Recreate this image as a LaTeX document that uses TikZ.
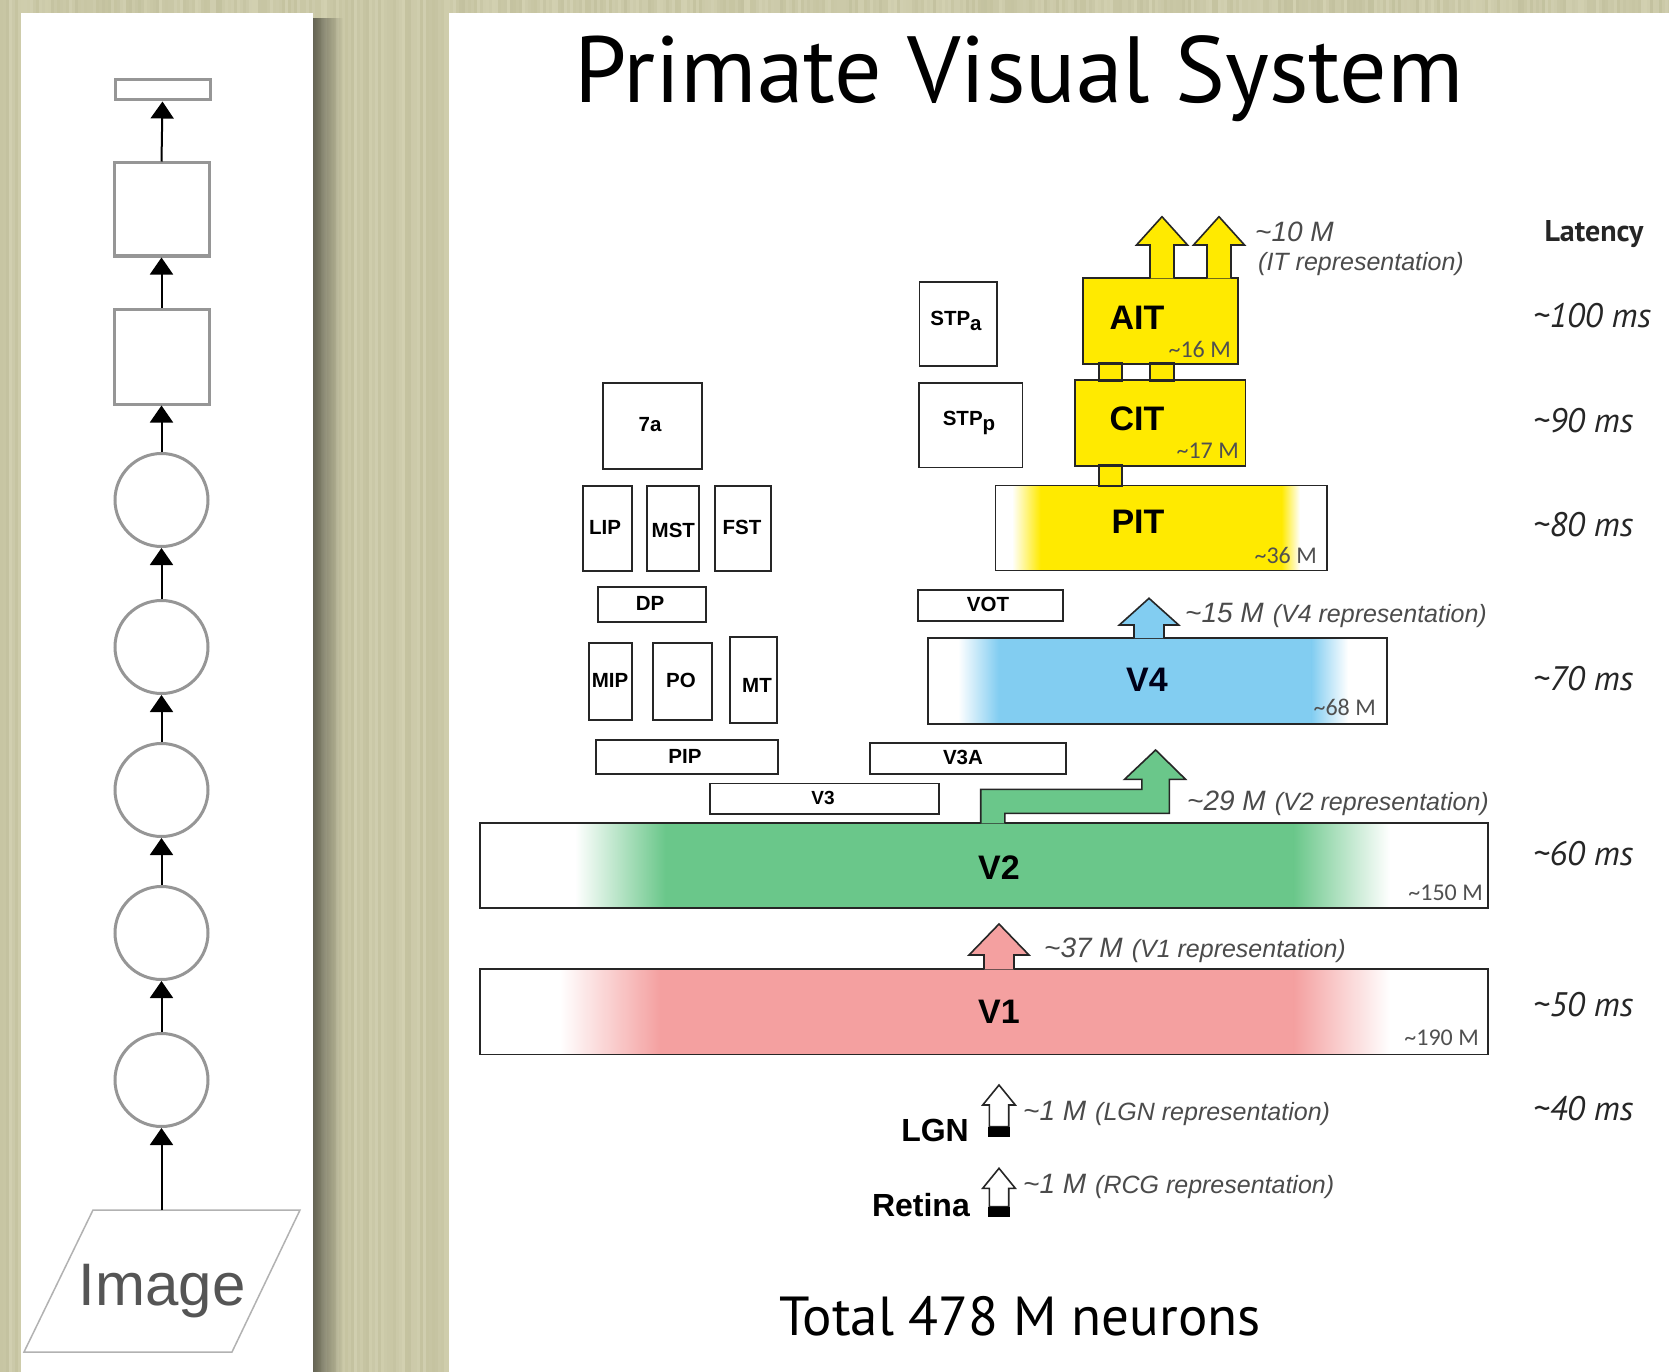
\documentclass[tikz,border=0pt]{standalone}
\usepackage{fontspec}
\setmainfont{Liberation Sans}
\newfontfamily\gillfont{PT Sans}
\newfontfamily\condfont{Carlito}
\usetikzlibrary{arrows.meta,fit,fadings}

\definecolor{bgd}{RGB}{190,188,152}
\definecolor{bgl}{RGB}{216,214,184}
\definecolor{lpgray}{RGB}{150,150,150}
\definecolor{imggray}{RGB}{85,85,85}
\definecolor{itY}{RGB}{255,234,0}
\definecolor{v4B}{RGB}{130,205,241}
\definecolor{v2G}{RGB}{106,199,138}
\definecolor{v1R}{RGB}{244,160,160}
\definecolor{cntgray}{RGB}{80,80,80}
\definecolor{repgray}{RGB}{75,75,75}

% box drawn from its two corners
\newcommand\areabox[5]{\node[area, fit={(#2,#3) (#4,#5)}] (#1) {};}
% broad up-arrow: style, centre x, shaft half width, head half width, tip y, head base y, foot y
\newcommand\fatarrow[7]{%
  \filldraw[#1] (#2-#3,#7) -- (#2-#3,#6) -- (#2-#4,#6) -- (#2,#5)
    -- (#2+#4,#6) -- (#2+#3,#6) -- (#2+#3,#7);}
% neuron count followed by the representation name
\newcommand\rep[2]{{\fontsize{28}{30}\selectfont\textasciitilde#1}\hspace{9pt}{\fontsize{25}{27}\selectfont(#2)}}

\begin{document}
\begin{tikzpicture}[x=1pt,y=-1pt,
  lpshape/.style={draw=lpgray, line width=3pt, fill=white, inner sep=0pt},
  lparrow/.style={draw=black, line width=2pt, -{Triangle[width=23pt,length=17pt]}},
  area/.style={draw=black!85, line width=1.8pt, inner sep=0pt},
  link/.style={draw=black!85, line width=1.6pt, fill=itY},
  fatarr/.style={draw=black!85, line width=1.6pt, line join=miter},
  lbl/.style={font=\bfseries\fontsize{20.5}{22}\selectfont, inner sep=0pt},
  big/.style={font=\bfseries\fontsize{34}{36}\selectfont, inner sep=0pt},
  cnt/.style={font=\condfont\fontsize{24}{26}\selectfont, text=cntgray, inner sep=0pt, anchor=base east},
  repl/.style={font=\itshape, text=repgray, inner sep=0pt, anchor=base west},
  lat/.style={font=\gillfont\itshape\fontsize{34}{36}\selectfont, text=black!85, inner sep=0pt, anchor=west},
]
\useasboundingbox (0,0) rectangle (1669,1372);

% ---------- textured backdrop: fine vertical grain ----------
\fill[bgl!50!bgd] (0,0) rectangle (1669,1372);
\pgfmathsetseed{42}
\foreach \i in {0,...,555}{
  \pgfmathtruncatemacro\s{15+70*rnd}
  \fill[bgl!\s!bgd, opacity=0.8] (\i*3,0) rectangle (\i*3+3.3,1372);
}
\fill[black, path fading=east, fill opacity=0.5] (313,13) rectangle (343,1372);

% ---------- panels ----------
\fill[white] (21,13) rectangle (313,1372);
\fill[white] (449,13) rectangle (1669,1372);

% ---------- feed-forward network ----------
\node[lpshape, fit={(115,80) (210,100)}] (out) {};
\node[lpshape, fit={(114,163) (209,256)}] (fc2) {};
\node[lpshape, fit={(114,309) (209,404)}] (fc1) {};
\node[lpshape, circle, minimum size=93pt] (c1) at (161.5,500) {};
\node[lpshape, circle, minimum size=93pt] (c2) at (161.5,647) {};
\node[lpshape, circle, minimum size=93pt] (c3) at (161.5,790) {};
\node[lpshape, circle, minimum size=93pt] (c4) at (161.5,933) {};
\node[lpshape, circle, minimum size=93pt] (c5) at (161.5,1080) {};
\draw[draw=black!30, line width=1.5pt] (93,1210) -- (300,1210) -- (232,1352) -- (24,1352) -- cycle;
\coordinate (imgtop) at (161.5,1210);
\node[font=\fontsize{60}{64}\selectfont, text=imggray, anchor=base, inner sep=0pt] (imgtxt) at (162,1305) {Image};

\draw[lparrow] (imgtop) -- (c5.south);
\draw[lparrow] (c5.north) -- (c4.south);
\draw[lparrow] (c4.north) -- (c3.south);
\draw[lparrow] (c3.north) -- (c2.south);
\draw[lparrow] (c2.north) -- (c1.south);
\draw[lparrow] (c1.north) -- (fc1.south);
\draw[lparrow] (fc1.north) -- (fc2.south);
\draw[lparrow] (fc2.north) -- (out.south);

% ---------- title ----------
\node[font=\gillfont\fontsize{94}{100}\selectfont, anchor=base, inner sep=0pt] (title) at (1019,103) {Primate Visual System};

% ---------- coloured fills ----------
% V1
\fill[v1R] (660,969.3) rectangle (1294,1054.5);
\shade[left color=white, right color=v1R] (560,969.3) rectangle (660.5,1054.5);
\shade[left color=v1R, right color=white] (1293.5,969.3) rectangle (1390,1054.5);
% V2
\fill[v2G] (665,823.3) rectangle (1294,908.3);
\shade[left color=white, right color=v2G] (575,823.3) rectangle (665.5,908.3);
\shade[left color=v2G, right color=white] (1293.5,823.3) rectangle (1390,908.3);
% V4
\fill[v4B] (998,638) rectangle (1312,724);
\shade[left color=white, right color=v4B] (958,638) rectangle (998.5,724);
\shade[left color=v4B, right color=white] (1311.5,638) rectangle (1348,724);
% PIT
\fill[itY] (1040,485.5) rectangle (1282,570.5);
\shade[left color=white, right color=itY] (1012,485.5) rectangle (1040.5,570.5);
\shade[left color=itY, right color=white] (1281.5,485.5) rectangle (1300,570.5);
% AIT, CIT
\fill[itY] (1083,278.3) rectangle (1237.8,364);
\fill[itY] (1075,380) rectangle (1245.5,465.7);

% links between the IT stages
\filldraw[link] (1099,363) rectangle (1122,381);
\filldraw[link] (1150,363) rectangle (1174,381);
\filldraw[link] (1099,464.7) rectangle (1122,486.5);

% ---------- areas ----------
\areabox{STPa}{919.4}{281.7}{996.7}{365.7}
\areabox{STPp}{919}{383}{1022.5}{467.5}
\areabox{AIT}{1083}{278.3}{1237.8}{364}
\areabox{CIT}{1075}{380}{1245.5}{465.7}
\areabox{PIT}{995.5}{485.5}{1327}{570.5}
\areabox{A7a}{602.7}{382.7}{701.7}{469}
\areabox{LIP}{583.3}{485.7}{631.7}{570.7}
\areabox{MST}{647.3}{485.7}{699.3}{570.7}
\areabox{FST}{715}{485.7}{771}{570.7}
\areabox{DP}{598.3}{587.3}{706}{621.7}
\areabox{VOT}{918.3}{590}{1062.7}{621}
\areabox{MIP}{589.3}{643.3}{632.3}{720}
\areabox{PO}{653.3}{643.3}{711.7}{720}
\areabox{MT}{730}{637.3}{777.3}{723.3}
\areabox{V4}{928}{638}{1387}{724}
\areabox{PIP}{596}{740}{778.3}{774.3}
\areabox{V3A}{870}{743.3}{1066}{774.3}
\areabox{V3}{709.8}{783.5}{939}{814.3}
\areabox{V2}{480}{823.3}{1488}{908.3}
\areabox{V1}{480}{969.3}{1488}{1054.5}

% ---------- area names ----------
\node[lbl] (tSTPa) at (956,321) {STP\raisebox{-0.5ex}{a}};
\node[lbl] (tSTPp) at (969,423) {STP\raisebox{-0.5ex}{p}};
\node[lbl] (t7a) at (650,425) {7a};
\node[lbl] (tLIP) at (605,527) {LIP};
\node[lbl] (tMST) at (673.3,530) {MST};
\node[lbl] (tFST) at (742,527) {FST};
\node[lbl] (tDP) at (650,603.5) {DP};
\node[lbl] (tVOT) at (988,604.5) {VOT};
\node[lbl] (tMIP) at (610,680) {MIP};
\node[lbl] (tPO) at (681,680) {PO};
\node[lbl] (tMT) at (757,685) {MT};
\node[lbl] (tPIP) at (685,756) {PIP};
\node[lbl] (tV3A) at (963,757) {V3A};
\node[lbl, font=\bfseries\fontsize{19}{21}\selectfont] (tV3) at (823,798) {V3};
\node[big] (tAIT) at (1137,318) {AIT};
\node[big] (tCIT) at (1137,419) {CIT};
\node[big] (tPIT) at (1138,522) {PIT};
\node[big, text=black!90!blue] (tV4) at (1147,680) {V4};
\node[big] (tV2) at (999,868) {V2};
\node[big] (tV1) at (999,1012) {V1};

% neuron counts
\node[cnt] (nAIT) at (1231,357) {\textasciitilde16 M};
\node[cnt] (nCIT) at (1239,458.5) {\textasciitilde17 M};
\node[cnt] (nPIT) at (1317,563) {\textasciitilde36 M};
\node[cnt] (nV4) at (1376,715) {\textasciitilde68 M};
\node[cnt] (nV2) at (1483,900) {\textasciitilde150 M};
\node[cnt] (nV1) at (1479,1045) {\textasciitilde190 M};

% ---------- feed-forward arrows ----------
\fatarrow{fatarr, fill=itY}{1162}{12}{25.5}{216.7}{245}{278.3}
\fatarrow{fatarr, fill=itY}{1219}{12}{25.5}{216.7}{245}{278.3}
\fatarrow{fatarr, fill=v4B}{1149}{15}{29.7}{598.3}{625}{638}
\filldraw[fatarr, fill=v2G] (980.7,823.3) -- (980.7,789.3) -- (1141.8,789.3) -- (1141.8,779.3)
  -- (1124.6,779.3) -- (1155.6,750) -- (1185.5,779.3) -- (1169.4,779.3) -- (1169.4,813.3)
  -- (1004.8,813.3) -- (1004.8,823.3);
\fatarrow{fatarr, fill=v1R}{999}{15}{30}{924}{955}{969.3}

% LGN and retina outputs
\filldraw[fatarr, fill=white] (989.3,1126.7) -- (989.3,1105) -- (982.7,1105) -- (999,1085)
  -- (1015.3,1105) -- (1008.7,1105) -- (1008.7,1126.7) -- cycle;
\fill[black] (988.3,1126.7) rectangle (1009.7,1136.7);
\filldraw[fatarr, fill=white] (989.3,1206.7) -- (989.3,1188.3) -- (982.7,1188.3) -- (999,1168.3)
  -- (1015.3,1188.3) -- (1008.7,1188.3) -- (1008.7,1206.7) -- cycle;
\fill[black] (988.3,1206.7) rectangle (1009.7,1216.7);
\node[font=\bfseries\fontsize{32}{34}\selectfont, anchor=base east, inner sep=0pt] (LGN) at (969,1141.7) {LGN};
\node[font=\bfseries\fontsize{32}{34}\selectfont, anchor=base east, inner sep=0pt] (Retina) at (970,1216.7) {Retina};

% ---------- representation sizes ----------
\node[repl, font=\itshape\fontsize{28}{30}\selectfont] (rIT1) at (1255,242) {\textasciitilde10 M};
\node[repl, font=\itshape\fontsize{25}{27}\selectfont] (rIT2) at (1258,270) {(IT representation)};
\node[repl] (rV4) at (1185,622) {\rep{15 M}{V4 representation}};
\node[repl] (rV2) at (1187,810) {\rep{29 M}{V2 representation}};
\node[repl] (rV1) at (1044,957) {\rep{37 M}{V1 representation}};
\node[repl] (rLGN) at (1023,1120) {\rep{1 M}{LGN representation}};
\node[repl] (rRCG) at (1023,1193) {\rep{1 M}{RCG representation}};

% ---------- latencies ----------
\node[font=\gillfont\bfseries\fontsize{30}{32}\selectfont, text=black!85, inner sep=0pt] (latency) at (1594,234) {Latency};
\node[lat] (l100) at (1533,316) {\textasciitilde100 ms};
\node[lat] (l90) at (1533,421) {\textasciitilde90 ms};
\node[lat] (l80) at (1533,525) {\textasciitilde80 ms};
\node[lat] (l70) at (1533,679) {\textasciitilde70 ms};
\node[lat] (l60) at (1533,854) {\textasciitilde60 ms};
\node[lat] (l50) at (1533,1005) {\textasciitilde50 ms};
\node[lat] (l40) at (1533,1109) {\textasciitilde40 ms};

% ---------- total ----------
\node[font=\gillfont\fontsize{55}{60}\selectfont, anchor=base, inner sep=0pt] (total) at (1020,1335) {Total 478 M neurons};
\end{tikzpicture}
\end{document}
